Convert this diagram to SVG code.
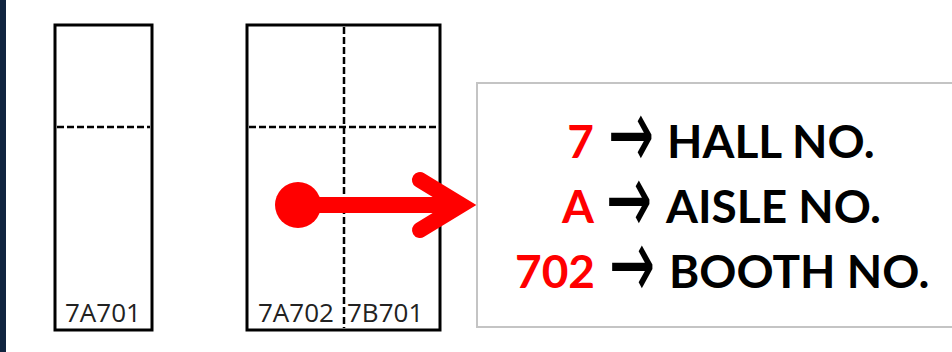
<svg xmlns="http://www.w3.org/2000/svg" width="952" height="352" viewBox="0 0 952 352">
<style>
.booth{fill:#fff;stroke:#000;stroke-width:3}
.dash{stroke:#000;stroke-width:2.5;stroke-dasharray:7 3;fill:none}
.lbl{font-family:"Open Sans","Liberation Sans",sans-serif;font-size:26px;fill:#222}
.big{font-family:Lato,"Open Sans",sans-serif;font-size:46px;font-weight:bold;fill:#000}
.red{fill:#ff0000}
.arr{font-family:"DejaVu Sans",sans-serif;font-size:100px;fill:#000}
</style>
<rect width="952" height="352" fill="#fff"/>
<rect x="0" y="0" width="6" height="352" fill="#10243f"/>
<g id="booth-7A701">
<rect class="booth" x="55" y="25" width="97" height="305"/>
<line class="dash" x1="57" y1="127" x2="150" y2="127"/>
<text class="lbl" x="65" y="322">7A701</text>
</g>
<g id="booth-7A702-7B701">
<rect class="booth" x="247" y="25" width="193" height="305"/>
<line class="dash" x1="249" y1="127" x2="438" y2="127"/>
<line class="dash" x1="344" y1="27" x2="344" y2="328"/>
<text class="lbl" x="258" y="322">7A702</text>
<text class="lbl" x="347" y="322">7B701</text>
</g>
<g id="legend">
<rect x="477" y="83" width="520" height="244" fill="#fff" stroke="#c4c4c4" stroke-width="2"/>
<text class="big red" x="594" y="158" text-anchor="end">7</text>
<text class="arr" transform="translate(631,140) scale(0.55,1)" x="0" y="28" text-anchor="middle">→</text>
<text class="big" x="667" y="158">HALL NO.</text>
<text class="big red" x="594" y="223" text-anchor="end">A</text>
<text class="arr" transform="translate(629,205) scale(0.55,1)" x="0" y="28" text-anchor="middle">→</text>
<text class="big" x="666" y="223">AISLE NO.</text>
<text class="big red" x="595" y="288" text-anchor="end">702</text>
<text class="arr" transform="translate(632,270) scale(0.55,1)" x="0" y="28" text-anchor="middle">→</text>
<text class="big" x="669" y="288">BOOTH NO.</text>
</g>
<g id="connectors">
<circle cx="298" cy="205" r="23" fill="#ff0000"/>
<line x1="298" y1="205" x2="462" y2="205" stroke="#ff0000" stroke-width="16"/>
<path d="M420 180 L461 205 L420 230" fill="none" stroke="#ff0000" stroke-width="16" stroke-linecap="round" stroke-linejoin="miter"/>
</g>
</svg>
